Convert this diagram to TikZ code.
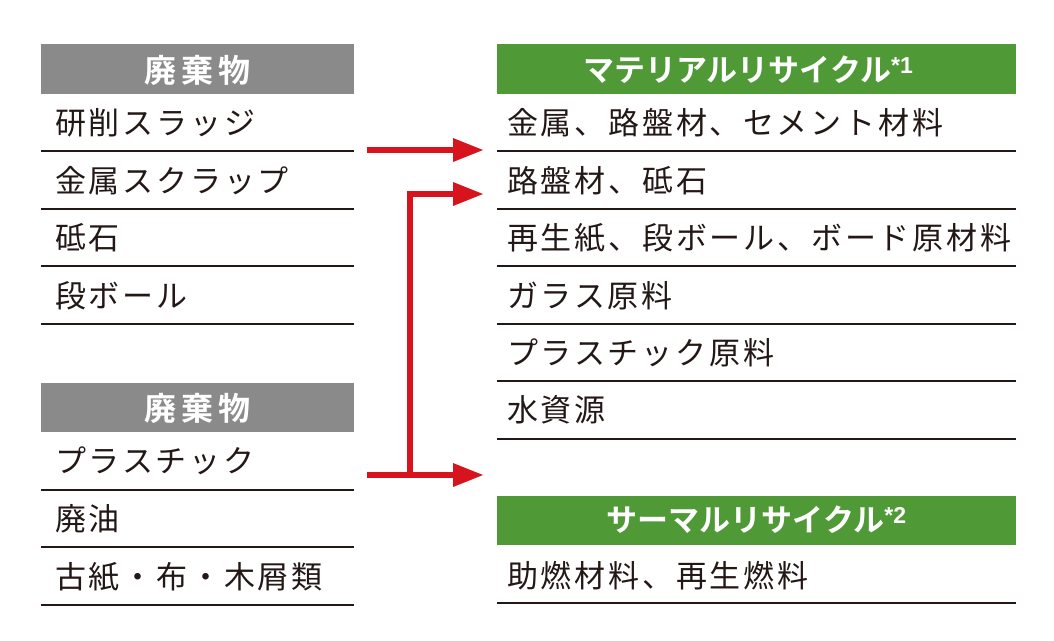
\documentclass[tikz,border=0pt]{standalone}
\usepackage{fontspec}
\setmainfont{Noto Sans CJK JP}[LetterSpace=9]
\newfontfamily\hdfont{Noto Sans CJK JP Bold}
\newfontfamily\supfont{Liberation Sans Bold}
\definecolor{hgray}{HTML}{8A8A8A}
\definecolor{hgreen}{HTML}{4F9A37}
\definecolor{ared}{HTML}{D7141E}
\definecolor{rline}{HTML}{231815}
\newcommand{\supmark}[1]{\raisebox{8pt}{\supfont\fontsize{23}{23}\selectfont *#1}}
\begin{document}
\begin{tikzpicture}[x=1pt,y=-1pt,
  hdr/.style={anchor=center,text=white,font=\hdfont\fontsize{31}{31}\selectfont},
  itm/.style={anchor=west,inner sep=0pt,text=rline,font=\fontsize{31}{31}\selectfont},
  sep/.style={draw=rline,line width=1.3pt},
  rarrow/.style={draw=ared,line width=6pt},
  ahead/.style={fill=ared,draw=none}]
\useasboundingbox (0,0) rectangle (1054,640);
% left group 1
\fill[hgray] (41,44) rectangle (354,94);
\node[hdr] (h1) at (197.5,70) {\fontsize{32}{32}\selectfont 廃\hspace{5pt}棄\hspace{5pt}物};
\node[itm] (l1) at (55,123) {研削スラッジ};
\node[itm] (l2) at (55,181) {金属スクラップ};
\node[itm] (l3) at (55,238) {砥石};
\node[itm] (l4) at (55,296) {段ボール};
\foreach \y in {151,209,266,324} \draw[sep] (41,\y) -- (354,\y);
% left group 2
\fill[hgray] (41,383) rectangle (354,432);
\node[hdr] (h2) at (197.5,408.5) {\fontsize{32}{32}\selectfont 廃\hspace{5pt}棄\hspace{5pt}物};
\node[itm] (l5) at (55,461) {プラスチック};
\node[itm] (l6) at (55,519) {廃油};
\node[itm] (l7) at (55,577) {古紙・布・木屑類};
\foreach \y in {490,547,605} \draw[sep] (41,\y) -- (354,\y);
% right group 1
\fill[hgreen] (497,44) rectangle (1016,94);
\node[hdr] (h3) at (748,70) {マテリアルリサイクル\supmark{1}};
\node[itm] (r1) at (507,123) {金属、路盤材、セメント材料};
\node[itm] (r2) at (507,181) {路盤材、砥石};
\node[itm] (r3) at (507,238) {再生紙、段ボール、ボード原材料};
\node[itm] (r4) at (507,296) {ガラス原料};
\node[itm] (r5) at (507,353) {プラスチック原料};
\node[itm] (r6) at (507,410) {水資源};
\foreach \y in {151,209,266,324,381,439} \draw[sep] (497,\y) -- (1016,\y);
% right group 2
\fill[hgreen] (497,496) rectangle (1016,545);
\node[hdr] (h4) at (756.5,520) {サーマルリサイクル\supmark{2}};
\node[itm] (r7) at (507,576) {助燃材料、再生燃料};
\draw[sep] (497,603) -- (1016,603);
% arrows
\coordinate (a1s) at (367,150);
\coordinate (a1e) at (483,150);
\coordinate (a2e) at (483,194);
\coordinate (a3s) at (367,475);
\coordinate (a3e) at (483,475);
\coordinate (jn) at (410,475);
\coordinate (cn) at (410,194);
\draw[rarrow] (a1s) -- (455,150);
\fill[ahead] (a1e) -- (453,138) -- (453,162) -- cycle;
\draw[rarrow] (a3s) -- (455,475);
\fill[ahead] (a3e) -- (453,463) -- (453,487) -- cycle;
\draw[rarrow] (jn) -- (cn) -- (455,194);
\fill[ahead] (a2e) -- (453,182) -- (453,206) -- cycle;
\end{tikzpicture}
\end{document}
